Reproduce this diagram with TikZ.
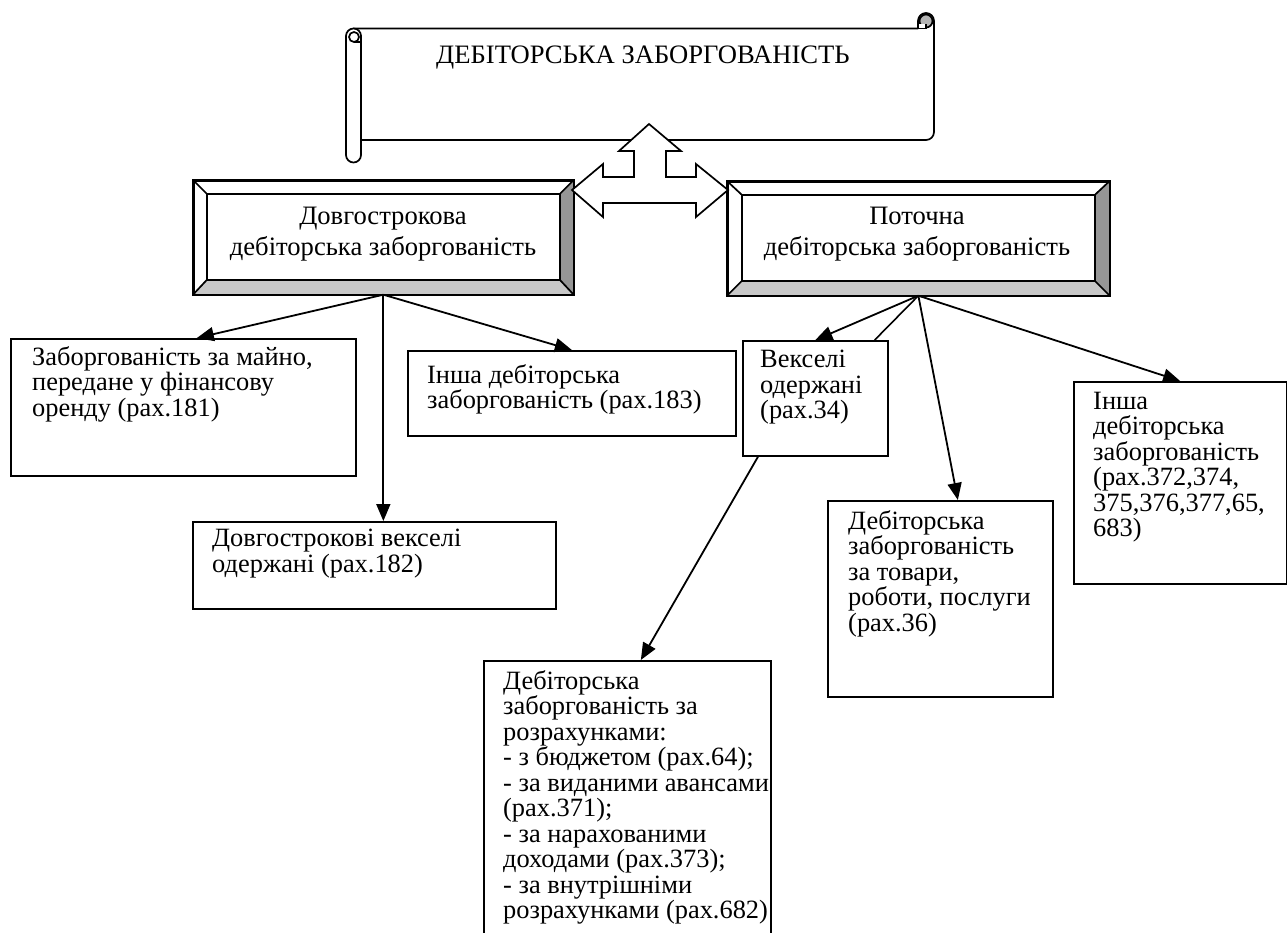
\documentclass[tikz,border=0pt]{standalone}
\usepackage{fontspec}
\setmainfont{Liberation Serif}
\usetikzlibrary{arrows.meta,calc}
\definecolor{bevdark}{HTML}{969696}
\definecolor{bevlight}{HTML}{C8C8C8}
\definecolor{curlgray}{HTML}{B4B4B4}
\begin{document}
\begin{tikzpicture}[x=1pt,y=-1pt,
  ln/.style={line width=1.7pt},
  box/.style={draw,ln,fill=white,inner sep=0pt,anchor=north west},
  txt/.style={anchor=north west,align=left,inner sep=0pt,font=\fontsize{26.4}{25.5}\selectfont},
  btxt/.style={align=center,inner sep=0pt,font=\fontsize{26.6}{31}\selectfont},
  conn/.style={draw,line width=1.8pt,-{Triangle[length=17pt,width=14pt]}},
  plain/.style={draw,line width=1.6pt}]
\useasboundingbox[fill=white] (0,0) rectangle (1287,933);

% ---------- scroll banner ----------
\draw[ln,fill=white,line join=round] (353.5,28.5) -- (918,28.5) -- (918,21) arc[start angle=180,end angle=360,radius=8]
  -- (934,132) arc[start angle=0,end angle=90,radius=8] -- (361,140) -- (361,36) -- cycle;
\draw[ln,fill=white] (346,36) arc[start angle=180,end angle=360,radius=7.5] -- (361,155)
  arc[start angle=0,end angle=180,radius=7.5] -- cycle;
\draw[ln,fill=white] (354,37) circle[radius=5];
\draw[ln] (354,42) -- (361,42);
\draw[ln,fill=curlgray] (926,21) circle[radius=6.5];
\fill[white] (918.8,24) rectangle (925,27.7);
\draw[ln] (918,28.5) -- (926,28.5) -- (926,24);
\node[inner sep=0pt,font=\fontsize{26.6}{30}\selectfont] (title) at (643,58) {ДЕБІТОРСЬКА ЗАБОРГОВАНІСТЬ};

% ---------- bevel boxes ----------
\node[box,minimum width=379pt,minimum height=113pt] (L) at (193,180) {};
\fill[bevdark] (L.north east) -- (L.south east) -- ([shift={(-14,-15)}]L.south east) -- ([shift={(-14,14)}]L.north east) -- cycle;
\fill[bevlight] (L.south west) -- (L.south east) -- ([shift={(-14,-15)}]L.south east) -- ([shift={(14,-15)}]L.south west) -- cycle;
\draw[ln] (L.north west) rectangle (L.south east);
\draw[ln] ([shift={(14,14)}]L.north west) rectangle ([shift={(-14,-15)}]L.south east);
\draw[ln] (L.north west) -- ([shift={(14,14)}]L.north west);
\draw[ln] (L.north east) -- ([shift={(-14,14)}]L.north east);
\draw[ln] (L.south west) -- ([shift={(14,-15)}]L.south west);
\draw[ln] (L.south east) -- ([shift={(-14,-15)}]L.south east);
\node[btxt] (Lt) at (383,234) {Довгострокова\\дебіторська заборгованість};

\node[box,minimum width=381pt,minimum height=113pt] (R) at (727,181) {};
\fill[bevdark] (R.north east) -- (R.south east) -- ([shift={(-15,-15)}]R.south east) -- ([shift={(-15,14)}]R.north east) -- cycle;
\fill[bevlight] (R.south west) -- (R.south east) -- ([shift={(-15,-15)}]R.south east) -- ([shift={(15,-15)}]R.south west) -- cycle;
\draw[ln] (R.north west) rectangle (R.south east);
\draw[ln] ([shift={(15,14)}]R.north west) rectangle ([shift={(-15,-15)}]R.south east);
\draw[ln] (R.north west) -- ([shift={(15,14)}]R.north west);
\draw[ln] (R.north east) -- ([shift={(-15,14)}]R.north east);
\draw[ln] (R.south west) -- ([shift={(15,-15)}]R.south west);
\draw[ln] (R.south east) -- ([shift={(-15,-15)}]R.south east);
\node[btxt] (Rt) at (917,234) {Поточна\\дебіторська заборгованість};

% ---------- three-way block arrow ----------
\draw[ln,fill=white,line join=miter] (572,190) -- (603,164) -- (603,177) -- (634,177) -- (634,151) -- (619,151)
  -- (649,124) -- (681,151) -- (666,151) -- (666,177) -- (696,177) -- (696,164) -- (728,190)
  -- (696,217) -- (696,203) -- (603,203) -- (603,217) -- cycle;

% ---------- lower boxes ----------
\node[box,minimum width=345pt,minimum height=137pt] (A) at (10,338) {};
\node[txt] (At) at (32,346) {Заборгованість за майно,\\передане у фінансову\\оренду (рах.181)};

\node[box,minimum width=328pt,minimum height=85pt] (B) at (407,350) {};
\node[txt] (Bt) at (427,364) {Інша дебіторська\\заборгованість (рах.183)};

\node[box,minimum width=363pt,minimum height=87pt] (C) at (192,521) {};
\node[txt] (Ct) at (212,529) {Довгострокові векселі\\одержані (рах.182)};

\node[box,minimum width=145pt,minimum height=115pt] (E) at (742,340) {};
\node[txt] (Et) at (760,350) {Векселі\\одержані\\(рах.34)};

\node[box,minimum width=287pt,minimum height=285pt] (D) at (483,660) {};
\node[txt] (Dt) at (503,670) {Дебіторська\\заборгованість за\\розрахунками:\\- з бюджетом (рах.64);\\- за виданими авансами\\(рах.371);\\- за нарахованими\\доходами (рах.373);\\- за внутрішніми\\розрахунками (рах.682)};

\node[box,minimum width=225pt,minimum height=196pt] (F) at (827,500) {};
\node[txt] (Ft) at (848,510) {Дебіторська\\заборгованість\\за товари,\\роботи, послуги\\(рах.36)};

\node[box,minimum width=212.5pt,minimum height=202pt] (G) at (1073,381) {};
\node[txt] (Gt) at (1093,392) {Інша\\дебіторська\\заборгованість\\(рах.372,374,\\375,376,377,65,\\683)};

% ---------- connectors ----------
\draw[conn] (L.south) -- ([xshift=13.5pt]A.north);
\draw[conn] (L.south) -- (L.south |- C.north);
\draw[conn] (L.south) -- (B.north);
\draw[conn] (R.south) -- (E.north);
\draw[plain] (R.south) -- ([xshift=-14pt]E.north east);
\draw[conn] (R.south) -- ([xshift=17.5pt]F.north);
\draw[conn] (R.south) -- (G.north);
\draw[conn] ([xshift=16pt]E.south west) -- ([xshift=13.5pt]D.north);
\end{tikzpicture}
\end{document}
